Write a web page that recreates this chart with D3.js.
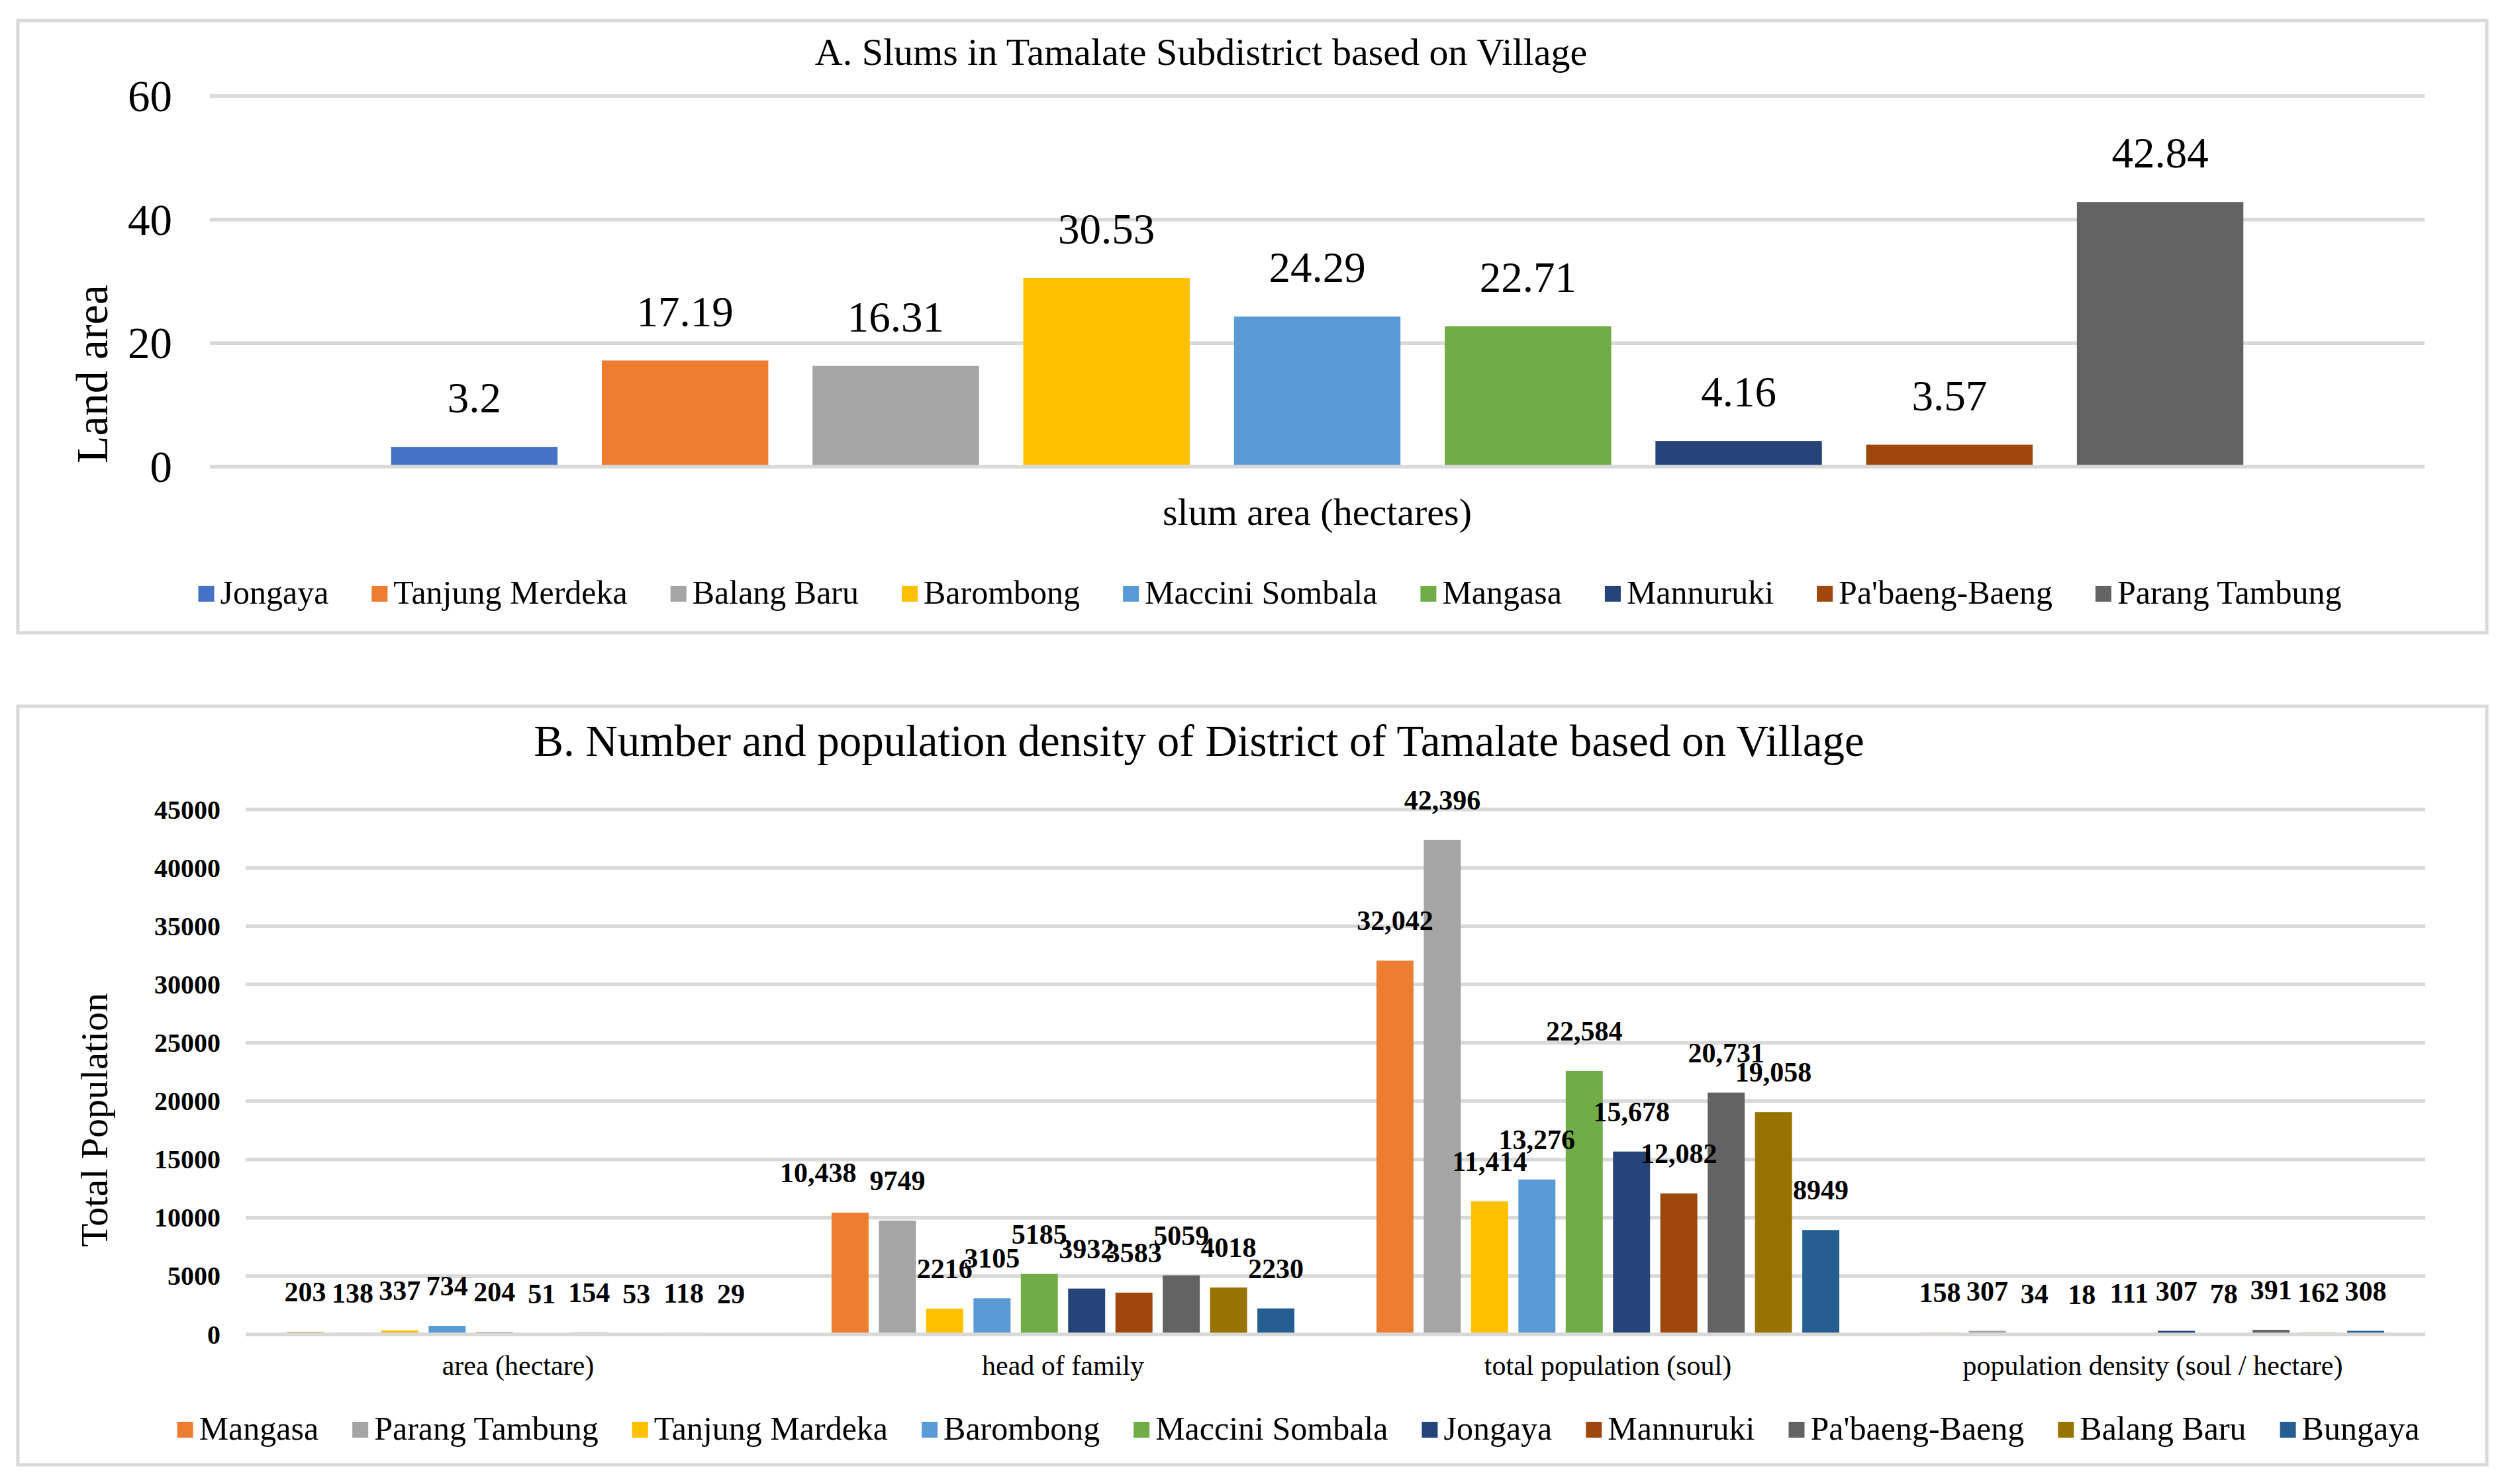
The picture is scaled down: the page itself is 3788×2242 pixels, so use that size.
<!DOCTYPE html>
<html>
<head>
<meta charset="utf-8">
<script src="https://cdn.jsdelivr.net/npm/d3@7"></script>
<style>
  body { margin: 0; background: #fff; }
  svg text { font-family: "Liberation Serif", "Tinos", "Times New Roman", "DejaVu Serif", serif; fill: #000; }
</style>
</head>
<body>
<svg id="chart" width="3788" height="2242" font-family="Liberation Serif, Tinos, Times New Roman, DejaVu Serif, serif"></svg>
<script>
// ---------- Data: panel A ----------
const titleA = "A. Slums in Tamalate Subdistrict based on Village";
const categoryA = ["slum area (hectares)"];
const seriesA = ["Jongaya", "Tanjung Merdeka", "Balang Baru", "Barombong", "Maccini Sombala",
                 "Mangasa", "Mannuruki", "Pa'baeng-Baeng", "Parang Tambung"];
const valuesA = [3.2, 17.19, 16.31, 30.53, 24.29, 22.71, 4.16, 3.57, 42.84];
const colorsA = ["#4472C4", "#ED7D31", "#A5A5A5", "#FFC000", "#5B9BD5",
                 "#70AD47", "#264478", "#9E480E", "#636363"];
const ticksA = [0, 20, 40, 60];
const yTitleA = "Land area";

// ---------- Data: panel B ----------
const titleB = "B. Number and population density of District of Tamalate based on Village";
const categoriesB = ["area (hectare)", "head of family", "total population (soul)",
                     "population density (soul / hectare)"];
const seriesB = ["Mangasa", "Parang Tambung", "Tanjung Mardeka", "Barombong", "Maccini Sombala",
                 "Jongaya", "Mannuruki", "Pa'baeng-Baeng", "Balang Baru", "Bungaya"];
const areaB    = [203, 138, 337, 734, 204, 51, 154, 53, 118, 29];
const headB    = [10438, 9749, 2216, 3105, 5185, 3932, 3583, 5059, 4018, 2230];
const totalB   = [32042, 42396, 11414, 13276, 22584, 15678, 12082, 20731, 19058, 8949];
const densityB = [158, 307, 34, 18, 111, 307, 78, 391, 162, 308];
const colorsB = ["#ED7D31", "#A5A5A5", "#FFC000", "#5B9BD5", "#70AD47",
                 "#264478", "#9E480E", "#636363", "#997300", "#255E91"];
const ticksB = [0, 5000, 10000, 15000, 20000, 25000, 30000, 35000, 40000, 45000];
const yTitleB = "Total Population";

const FONT = '"Liberation Serif", "Tinos", "Times New Roman", "DejaVu Serif", serif';
const svg = d3.select("#chart");
const GRID = "#D9D9D9";

function txt(sel) { return sel.append("text").style("font-family", FONT).attr("fill", "#000"); }

// ---------- Panel frames ----------
svg.append("rect").attr("x", 27).attr("y", 31).attr("width", 3729).attr("height", 925)
  .attr("fill", "#fff").attr("stroke", GRID).attr("stroke-width", 5);
svg.append("rect").attr("x", 27).attr("y", 1067).attr("width", 3729).attr("height", 1146)
  .attr("fill", "#fff").attr("stroke", GRID).attr("stroke-width", 5);

function legend(g, names, colors, cx, cy, fontSize, gap) {
  const items = g.selectAll("g.item").data(names).join("g").attr("class", "item");
  items.append("rect").attr("width", 24).attr("height", 24).attr("y", cy - 12)
    .attr("fill", (d, i) => colors[i]);
  const texts = items.append("text").style("font-family", FONT)
    .attr("x", 33).attr("y", cy + fontSize * 0.3)
    .attr("font-size", fontSize).text(d => d);
  const widths = [];
  texts.each(function () { widths.push(this.getComputedTextLength()); });
  const itemW = widths.map(w => 33 + w);
  const total = d3.sum(itemW) + gap * (names.length - 1);
  let x = cx - total / 2;
  items.each(function (d, i) {
    d3.select(this).attr("transform", `translate(${x},0)`);
    x += itemW[i] + gap;
  });
}

// ---------- Panel A ----------
{
  const g = svg.append("g");
  const y = d3.scaleLinear().domain([0, 60]).range([705, 145]);
  const x0 = d3.scaleBand().domain(categoryA).range([317, 3662]);
  const x1 = d3.scaleBand().domain(seriesA).range([0, x0.bandwidth()])
    .paddingInner(0.21).paddingOuter(0.86);

  txt(g).attr("x", 1814).attr("y", 98).attr("text-anchor", "middle")
    .attr("font-size", 58).text(titleA);

  g.selectAll("line.grid").data(ticksA.filter(t => t !== 0)).join("line")
    .attr("x1", 317).attr("x2", 3662).attr("y1", d => y(d)).attr("y2", d => y(d))
    .attr("stroke", GRID).attr("stroke-width", 5.5);

  g.selectAll("text.tick").data(ticksA).join("text").style("font-family", FONT)
    .attr("x", 260).attr("y", d => y(d) + 23).attr("text-anchor", "end")
    .attr("font-size", 67).text(d => d);

  const data = seriesA.map((s, i) => ({ s, v: valuesA[i], c: colorsA[i] }));
  const grp = g.append("g").attr("transform", `translate(${x0(categoryA[0])},0)`);
  grp.selectAll("rect").data(data).join("rect")
    .attr("x", d => x1(d.s)).attr("width", x1.bandwidth())
    .attr("y", d => y(d.v)).attr("height", d => y(0) - y(d.v))
    .attr("fill", d => d.c);

  g.append("line").attr("x1", 317).attr("x2", 3662).attr("y1", y(0)).attr("y2", y(0))
    .attr("stroke", GRID).attr("stroke-width", 5.5);

  grp.selectAll("text.val").data(data).join("text").style("font-family", FONT)
    .attr("x", d => x1(d.s) + x1.bandwidth() / 2).attr("y", d => y(d.v) - 52)
    .attr("text-anchor", "middle").attr("font-size", 65).text(d => d.v);

  txt(g).attr("x", x0(categoryA[0]) + x0.bandwidth() / 2).attr("y", 793)
    .attr("text-anchor", "middle").attr("font-size", 58).text(categoryA[0]);

  txt(g).attr("transform", "translate(162,565) rotate(-90)")
    .attr("text-anchor", "middle").attr("font-size", 68).text(yTitleA);

  legend(g.append("g"), seriesA, colorsA, 1918, 897, 50, 65);
}

// ---------- Panel B ----------
{
  const g = svg.append("g");
  const y = d3.scaleLinear().domain([0, 45000]).range([2016, 1223]);
  const x0 = d3.scaleBand().domain(categoriesB).range([371, 3663]);
  const x1 = d3.scaleBand().domain(seriesB).range([0, x0.bandwidth()])
    .paddingInner(0.217).paddingOuter(0.867);
  const valueSets = [areaB, headB, totalB, densityB];
  const fmt = v => v >= 10000 ? d3.format(",")(v) : String(v);

  txt(g).attr("x", 1811).attr("y", 1142).attr("text-anchor", "middle")
    .attr("font-size", 67).text(titleB);

  g.selectAll("line.grid").data(ticksB.filter(t => t !== 0)).join("line")
    .attr("x1", 371).attr("x2", 3663).attr("y1", d => y(d)).attr("y2", d => y(d))
    .attr("stroke", GRID).attr("stroke-width", 5.5);

  g.selectAll("text.tick").data(ticksB).join("text").style("font-family", FONT)
    .attr("x", 333).attr("y", d => y(d) + 13.5).attr("text-anchor", "end")
    .attr("font-size", 40).attr("font-weight", "bold").text(d => d);

  const groups = g.selectAll("g.cat").data(categoriesB).join("g").attr("class", "cat")
    .attr("transform", d => `translate(${x0(d)},0)`);

  const rows = ci => seriesB.map((s, i) => ({ s, v: valueSets[ci][i], c: colorsB[i] }));

  groups.each(function (c, ci) {
    d3.select(this).selectAll("rect").data(rows(ci)).join("rect")
      .attr("x", d => x1(d.s)).attr("width", x1.bandwidth())
      .attr("y", d => y(d.v)).attr("height", d => y(0) - y(d.v))
      .attr("fill", d => d.c);
  });

  g.append("line").attr("x1", 371).attr("x2", 3663).attr("y1", y(0)).attr("y2", y(0))
    .attr("stroke", GRID).attr("stroke-width", 5.5);

  groups.each(function (c, ci) {
    const labels = d3.select(this).selectAll("text.val").data(rows(ci)).join("text")
      .attr("class", "val").style("font-family", FONT)
      .attr("x", d => x1(d.s) + x1.bandwidth() / 2).attr("y", d => y(d.v) - 46)
      .attr("text-anchor", "middle").attr("font-size", 42).attr("font-weight", "bold")
      .text(d => fmt(d.v));
    // if the first label collides with the second, slide it left (as in the original)
    const nodes = labels.nodes();
    const b0 = nodes[0].getBBox(), b1 = nodes[1].getBBox();
    const hOver = b0.x + b0.width - b1.x;
    const vOver = Math.min(b0.y + b0.height, b1.y + b1.height) - Math.max(b0.y, b1.y);
    if (hOver > 0 && vOver > 0) {
      d3.select(nodes[0]).attr("x", +d3.select(nodes[0]).attr("x") - hOver - 20);
    }
  });

  g.selectAll("text.catlab").data(categoriesB).join("text").style("font-family", FONT)
    .attr("x", d => x0(d) + x0.bandwidth() / 2).attr("y", 2077)
    .attr("text-anchor", "middle").attr("font-size", 42).text(d => d);

  txt(g).attr("transform", "translate(162,1692) rotate(-90)")
    .attr("text-anchor", "middle").attr("font-size", 58).text(yTitleB);

  legend(g.append("g"), seriesB, colorsB, 1961, 2160, 50, 51);
}
</script>
</body>
</html>
